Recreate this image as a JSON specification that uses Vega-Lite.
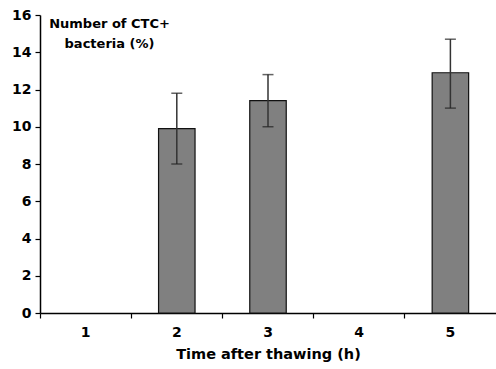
{
  "$schema": "https://vega.github.io/schema/vega-lite/v6.json",
  "autosize": "none",
  "width": 456,
  "height": 298,
  "padding": {"left": 40, "top": 15, "right": 0, "bottom": 56},
  "background": "white",
  "config": {
    "view": {"stroke": null},
    "axis": {"labelFont": "DejaVu Sans", "labelFontWeight": "bold", "labelFontSize": 14, "labelColor": "black", "titleFont": "DejaVu Sans", "titleFontWeight": "bold", "titleFontSize": 14.5, "titleColor": "black", "domainColor": "black", "tickColor": "black", "domainWidth": 1.5, "tickWidth": 1.2, "grid": false, "labelOverlap": false}
  },
  "data": {"values": [
    {"time": "1", "value": 0, "low": 0, "high": 0},
    {"time": "2", "value": 9.9, "low": 8.0, "high": 11.8},
    {"time": "3", "value": 11.4, "low": 10.0, "high": 12.8},
    {"time": "4", "value": 0, "low": 0, "high": 0},
    {"time": "5", "value": 12.9, "low": 11.0, "high": 14.7}
  ]},
  "encoding": {
    "x": {"field": "time", "type": "ordinal", "scale": {"domain": ["1", "2", "3", "4", "5"], "paddingInner": 0, "paddingOuter": 0},
      "axis": {"title": "Time after thawing (h)", "labelAngle": 0, "bandPosition": 0, "tickSize": 5, "labelPadding": 7, "titlePadding": 8}}
  },
  "layer": [
    {
      "transform": [{"filter": "datum.value > 0"}],
      "mark": {"type": "bar", "width": {"band": 0.4}, "fill": "#808080", "stroke": "#111111", "strokeWidth": 1.2},
      "encoding": {
        "y": {"field": "value", "type": "quantitative", "scale": {"domain": [0, 16]},
          "axis": {"values": [0, 2, 4, 6, 8, 10, 12, 14, 16], "tickSize": 5, "labelPadding": 4,
            "title": ["Number of CTC+", "bacteria (%)"], "titleFontSize": 13, "titleAngle": 0, "titleAlign": "center", "titleBaseline": "top", "titleX": 69, "titleY": 2, "titleLineHeight": 20}}
      }
    },
    {
      "transform": [{"filter": "datum.value > 0"}],
      "mark": {"type": "rule", "color": "#333333", "strokeWidth": 1.5},
      "encoding": {"y": {"field": "low", "type": "quantitative", "scale": {"domain": [0, 16]},
          "axis": {"values": [0, 2, 4, 6, 8, 10, 12, 14, 16], "tickSize": 5, "labelPadding": 4,
            "title": ["Number of CTC+", "bacteria (%)"], "titleFontSize": 13, "titleAngle": 0, "titleAlign": "center", "titleBaseline": "top", "titleX": 69, "titleY": 2, "titleLineHeight": 20}}, "y2": {"field": "high"}}
    },
    {
      "transform": [{"filter": "datum.value > 0"}],
      "mark": {"type": "tick", "color": "#222222", "thickness": 1.5, "size": 11},
      "encoding": {"y": {"field": "low", "type": "quantitative", "scale": {"domain": [0, 16]},
          "axis": {"values": [0, 2, 4, 6, 8, 10, 12, 14, 16], "tickSize": 5, "labelPadding": 4,
            "title": ["Number of CTC+", "bacteria (%)"], "titleFontSize": 13, "titleAngle": 0, "titleAlign": "center", "titleBaseline": "top", "titleX": 69, "titleY": 2, "titleLineHeight": 20}}}
    },
    {
      "transform": [{"filter": "datum.value > 0"}],
      "mark": {"type": "tick", "color": "#222222", "thickness": 1.5, "size": 11},
      "encoding": {"y": {"field": "high", "type": "quantitative", "scale": {"domain": [0, 16]},
          "axis": {"values": [0, 2, 4, 6, 8, 10, 12, 14, 16], "tickSize": 5, "labelPadding": 4,
            "title": ["Number of CTC+", "bacteria (%)"], "titleFontSize": 13, "titleAngle": 0, "titleAlign": "center", "titleBaseline": "top", "titleX": 69, "titleY": 2, "titleLineHeight": 20}}}
    }
  ]
}
